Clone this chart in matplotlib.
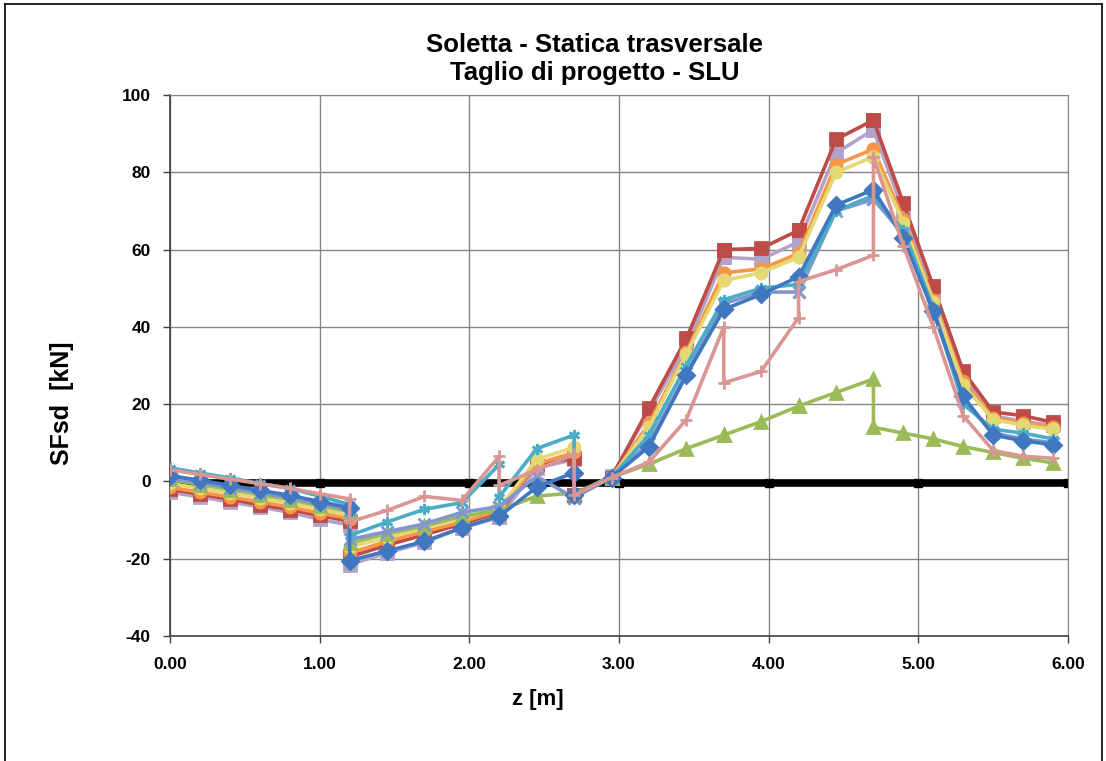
import matplotlib
matplotlib.use("Agg")
import matplotlib.pyplot as plt
from matplotlib.lines import Line2D

# Sections along the slab [m]; repeated abscissae carry the jumps in shear
z = [0.0, 0.2, 0.4, 0.6, 0.8, 1.0, 1.2, 1.2, 1.45, 1.7, 1.95, 2.2, 2.2, 2.45,
     2.7, 2.7, 2.95, 3.2, 3.45, 3.7, 3.7, 3.95, 4.2, 4.2, 4.45, 4.7, 4.7,
     4.9, 5.1, 5.3, 5.5, 5.7, 5.9]

# Design shear SFsd [kN] for each load combination
comb_1 = [1.5, 0.3, -1.0, -2.3, -3.6, -5.2, -6.8, -20.5, -18.0, -15.5, -12.0, -9.0, -9.0, -1.5,
          2.3, -3.5, 1.0, 9.0, 27.5, 44.5, 44.5, 48.4, 53.0, 53.0, 71.5, 75.5, 75.5,
          63.0, 44.0, 22.0, 12.0, 10.5, 9.5]
comb_2 = [-2.0, -3.3, -4.6, -6.0, -7.3, -8.8, -10.3, -19.5, -16.5, -13.8, -11.0, -8.0, -8.0, 4.5,
          6.0, -3.5, 1.0, 19.0, 37.0, 60.0, 60.0, 60.3, 65.0, 65.0, 88.5, 93.5, 93.5,
          72.0, 50.5, 28.5, 18.0, 17.0, 15.3]
comb_3 = [0.5, -0.8, -2.1, -3.4, -4.7, -6.3, -7.8, -16.0, -13.5, -11.5, -9.0, -7.5, -7.5, -3.8,
          -3.0, -3.0, 1.0, 4.5, 8.5, 12.0, 12.0, 15.5, 19.5, 19.5, 23.0, 26.5, 14.0,
          12.5, 11.0, 9.0, 7.5, 6.0, 4.8]
comb_4 = [1.0, -0.3, -1.6, -2.9, -4.2, -5.7, -7.3, -15.0, -13.0, -11.0, -8.0, -6.5, -6.5, 1.3,
          -4.2, -4.2, 1.0, 10.0, 28.0, 46.0, 46.0, 49.0, 49.0, 49.0, 70.0, 73.0, 73.0,
          64.0, 44.0, 21.0, 12.5, 11.0, 10.0]
comb_5 = [3.5, 2.2, 0.9, -0.5, -1.8, -3.8, -6.0, -14.0, -10.5, -7.2, -5.5, 4.4, -4.0, 8.5,
          12.0, -3.5, 1.0, 12.0, 30.0, 47.0, 47.0, 50.0, 51.0, 51.0, 70.0, 74.0, 74.0,
          65.0, 45.0, 20.0, 13.5, 12.5, 11.0]
comb_6 = [-1.5, -2.8, -4.0, -5.3, -6.6, -8.2, -9.6, -18.5, -15.5, -13.0, -10.5, -7.5, -7.5, 4.5,
          7.5, -3.5, 1.0, 15.0, 33.5, 54.0, 54.0, 55.0, 59.0, 59.0, 82.0, 86.0, 86.0,
          68.0, 47.0, 26.0, 16.5, 15.0, 14.0]
comb_7 = [-2.8, -4.0, -5.3, -6.6, -8.0, -9.8, -11.3, -21.5, -18.5, -15.8, -12.0, -9.3, -9.3, 3.5,
          5.7, -3.5, 1.5, 18.0, 35.0, 58.0, 58.0, 57.5, 62.0, 62.0, 85.0, 91.0, 91.0,
          70.0, 48.5, 27.0, 17.0, 15.5, 14.5]
comb_8 = [3.0, 1.8, 0.6, -0.6, -1.8, -3.2, -4.5, -10.5, -7.5, -3.9, -4.9, 6.5, -1.0, 3.0,
          7.0, -3.5, 1.0, 5.0, 16.0, 40.0, 25.5, 28.5, 42.4, 51.7, 54.8, 58.5, 84.0,
          61.0, 40.0, 17.0, 8.0, 6.5, 6.0]
comb_9 = [-0.5, -1.8, -3.0, -4.3, -5.6, -7.2, -8.8, -17.0, -14.5, -12.0, -9.5, -7.0, -7.0, 5.7,
          8.8, -3.5, 1.0, 14.0, 33.0, 52.0, 52.0, 54.0, 58.0, 58.0, 80.0, 84.0, 84.0,
          67.0, 46.5, 25.0, 16.0, 14.5, 13.5]

# Reference axis
z_ref = [0, 1, 2, 3, 4, 5, 6]
v_ref = [-0.5, -0.5, -0.5, -0.5, -0.5, -0.5, -0.5]

x_ticks = [0, 1, 2, 3, 4, 5, 6]
x_labels = ["0.00", "1.00", "2.00", "3.00", "4.00", "5.00", "6.00"]
y_ticks = [-40, -20, 0, 20, 40, 60, 80, 100]

STAR = (6, 2, 0)
series = [
    (comb_7, "#b3a2c7", "s"),
    (comb_2, "#be4b48", "s"),
    (comb_6, "#f79646", "o"),
    (comb_9, "#e3d874", "o"),
    (comb_3, "#9bbb59", "^"),
    (comb_4, "#8096d0", "x"),
    (comb_5, "#4bacc6", STAR),
    (comb_1, "#3f78c0", "D"),
    (comb_8, "#d99694", "+"),
]

plt.rcParams["font.family"] = ["Liberation Sans", "DejaVu Sans"]
plt.rcParams["font.weight"] = "bold"
plt.rcParams["axes.unicode_minus"] = False

fig = plt.figure(figsize=(11.06, 7.61), dpi=100)
ax = fig.add_axes([170 / 1106, 1 - 636 / 761, (1068 - 170) / 1106, (636 - 95) / 761])

ax.plot(z_ref, v_ref, color="black", lw=5.5, marker="s", ms=6, zorder=2)
for vals, col, mk in series:
    ax.plot(z, vals, color=col, lw=2.6, marker=mk, ms=8, mew=2,
            mfc=col, mec=col, zorder=3)

ax.set_xlim(0, 6)
ax.set_ylim(-40, 100)
ax.set_xticks(x_ticks)
ax.set_xticklabels(x_labels)
ax.set_yticks(y_ticks)
ax.grid(True, color="#868686", lw=1)
ax.set_axisbelow(True)
for s in ("top", "right"):
    ax.spines[s].set_color("#868686")
for s in ("left", "bottom"):
    ax.spines[s].set_color("#404040")
    ax.spines[s].set_linewidth(1.2)
ax.tick_params(axis="both", direction="out", length=5, width=1, colors="#404040",
               labelcolor="black", labelsize=12.5)
ax.tick_params(axis="x", pad=10)
ax.tick_params(axis="y", pad=9)
for lab in ax.get_xticklabels() + ax.get_yticklabels():
    lab.set_fontweight("bold")

fig.text(595 / 1106, 1 - 59 / 761, "Soletta - Statica trasversale\nTaglio di progetto - SLU",
         ha="center", va="center", fontsize=18.5, fontweight="bold", linespacing=1.2)
fig.text(538 / 1106, 1 - 700 / 761, "z [m]", ha="center", va="center",
         fontsize=16, fontweight="bold")
fig.text(62 / 1106, 1 - 403 / 761, "SFsd  [kN]", ha="center", va="center",
         rotation=90, fontsize=18, fontweight="bold")

# frame around the chart area
fr = dict(color="black", lw=1.2, transform=fig.transFigure)
fig.add_artist(Line2D([5 / 1106, 1102 / 1106], [1 - 4 / 761, 1 - 4 / 761], **fr))
fig.add_artist(Line2D([5 / 1106, 5 / 1106], [0, 1 - 4 / 761], **fr))
fig.add_artist(Line2D([1102 / 1106, 1102 / 1106], [0, 1 - 4 / 761], **fr))

fig.savefig("out.png", dpi=100, facecolor="white")
